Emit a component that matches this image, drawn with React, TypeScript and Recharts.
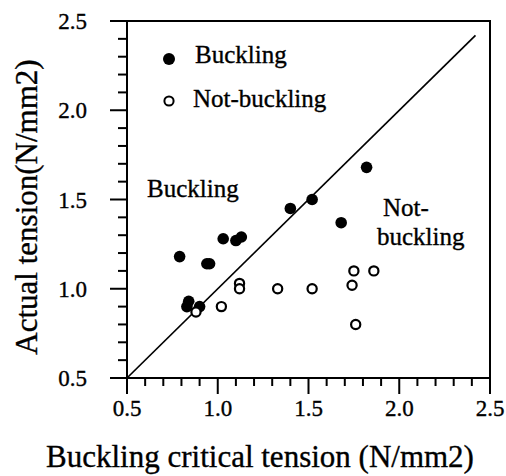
import React from "react";
import {
  ScatterChart,
  Scatter,
  XAxis,
  YAxis,
  ReferenceLine,
  ReferenceArea,
} from "recharts";

// ─── Data ────────────────────────────────────────────────
const BUCKLING_X = [0.79, 0.94, 0.955, 1.03, 1.1, 1.13, 1.4, 1.52, 1.68, 1.82, 0.84, 0.83, 0.9];
const BUCKLING_Y = [1.18, 1.14, 1.14, 1.28, 1.27, 1.29, 1.45, 1.5, 1.37, 1.68, 0.93, 0.9, 0.9];

const NOT_BUCKLING_X = [0.88, 1.02, 1.12, 1.12, 1.33, 1.52, 1.74, 1.75, 1.86, 1.76];
const NOT_BUCKLING_Y = [0.87, 0.9, 1.03, 1.0, 1.0, 1.0, 1.02, 1.1, 1.1, 0.8];

// y = x boundary
const LINE_X = [0.5, 2.42];
const LINE_Y = [0.5, 2.42];

const MAJOR_TICKS = [0.5, 1.0, 1.5, 2.0, 2.5];
const ALL_TICKS = [
  0.5, 0.6, 0.7, 0.8, 0.9, 1.0, 1.1, 1.2, 1.3, 1.4, 1.5, 1.6, 1.7, 1.8, 1.9,
  2.0, 2.1, 2.2, 2.3, 2.4, 2.5,
];

const bucklingData = BUCKLING_X.map((x, i) => ({ x, y: BUCKLING_Y[i] }));
const notBucklingData = NOT_BUCKLING_X.map((x, i) => ({ x, y: NOT_BUCKLING_Y[i] }));

const FONT = "'Liberation Serif', 'Times New Roman', serif";
const TXT = { fontFamily: FONT, stroke: "#000", strokeWidth: 0.35 };

// ─── Ticks ───────────────────────────────────────────────
const renderXTick = (props: any) => {
  const { x, y, payload } = props;
  const major = MAJOR_TICKS.includes(payload.value);
  return (
    <g key={`xt-${payload.value}`}>
      <path d={`M${x},${y}V${y + (major ? 16 : 8)}`} stroke="#000" strokeWidth={2} fill="none" />
      {major && (
        <text x={x} y={y + 38} textAnchor="middle" style={{ ...TXT, fontSize: 23 }} fill="#000">
          {payload.value.toFixed(1)}
        </text>
      )}
    </g>
  );
};

const renderYTick = (props: any) => {
  const { x, y, payload } = props;
  const major = MAJOR_TICKS.includes(payload.value);
  return (
    <g key={`yt-${payload.value}`}>
      <path d={`M${x},${y}H${x - (major ? 17 : 9)}`} stroke="#000" strokeWidth={2} fill="none" />
      {major && (
        <text x={x - 40} y={y + 8} textAnchor="end" style={{ ...TXT, fontSize: 23 }} fill="#000">
          {payload.value.toFixed(1)}
        </text>
      )}
    </g>
  );
};

const FilledDot = (p: any) => <circle cx={p.cx} cy={p.cy} r={5.8} fill="#000" />;
const OpenDot = (p: any) => (
  <circle cx={p.cx} cy={p.cy} r={4.6} fill="#fff" stroke="#000" strokeWidth={2.2} />
);

// ─── Component ───────────────────────────────────────────
export default function App() {
  return (
    <div style={{ position: "absolute", left: 0, top: 0, background: "#fff" }}>
      <ScatterChart width={506} height={476} margin={{ top: 21, right: 16, bottom: 0, left: 0 }}>
        <XAxis
          type="number"
          dataKey="x"
          domain={[0.5, 2.5]}
          ticks={ALL_TICKS}
          interval={0}
          tickSize={0}
          tickMargin={0}
          tickLine={false}
          tick={renderXTick}
          axisLine={{ stroke: "#000", strokeWidth: 2 }}
          height={98}
          allowDataOverflow
        />
        <YAxis
          type="number"
          dataKey="y"
          domain={[0.5, 2.5]}
          ticks={ALL_TICKS}
          interval={0}
          tickSize={0}
          tickMargin={0}
          tickLine={false}
          tick={renderYTick}
          axisLine={{ stroke: "#000", strokeWidth: 2 }}
          width={127}
          allowDataOverflow
        />
        <ReferenceArea x1={0.5} x2={2.5} y1={0.5} y2={2.5} fill="none" stroke="#000" strokeWidth={2} />
        <ReferenceLine
          segment={[
            { x: LINE_X[0], y: LINE_Y[0] },
            { x: LINE_X[1], y: LINE_Y[1] },
          ]}
          stroke="#000"
          strokeWidth={1.7}
        />
        <Scatter data={bucklingData} shape={FilledDot} isAnimationActive={false} />
        <Scatter data={notBucklingData} shape={OpenDot} isAnimationActive={false} />

        {/* Legend */}
        <g fill="#000">
          <circle cx={169} cy={59} r={6} fill="#000" />
          <text x={195} y={63} style={{ ...TXT, fontSize: 25 }}>Buckling</text>
          <circle cx={169} cy={101} r={4.6} fill="#fff" stroke="#000" strokeWidth={2} />
          <text x={193} y={107} style={{ ...TXT, fontSize: 25 }}>Not-buckling</text>
        </g>

        {/* Region annotations */}
        <g fill="#000">
          <text x={147} y={197} style={{ ...TXT, fontSize: 25 }}>Buckling</text>
          <text x={383} y={216} style={{ ...TXT, fontSize: 25 }}>Not-</text>
          <text x={377} y={245} style={{ ...TXT, fontSize: 25 }}>buckling</text>
        </g>

        {/* Axis titles */}
        <text x={260} y={467} textAnchor="middle" style={{ ...TXT, fontSize: 31 }} fill="#000">
          Buckling critical tension (N/mm2)
        </text>
        <text
          x={37}
          y={207}
          textAnchor="middle"
          style={{ ...TXT, fontSize: 31 }}
          fill="#000"
          transform="rotate(-90, 37, 207)"
        >
          Actual tension(N/mm2)
        </text>
      </ScatterChart>
    </div>
  );
}
